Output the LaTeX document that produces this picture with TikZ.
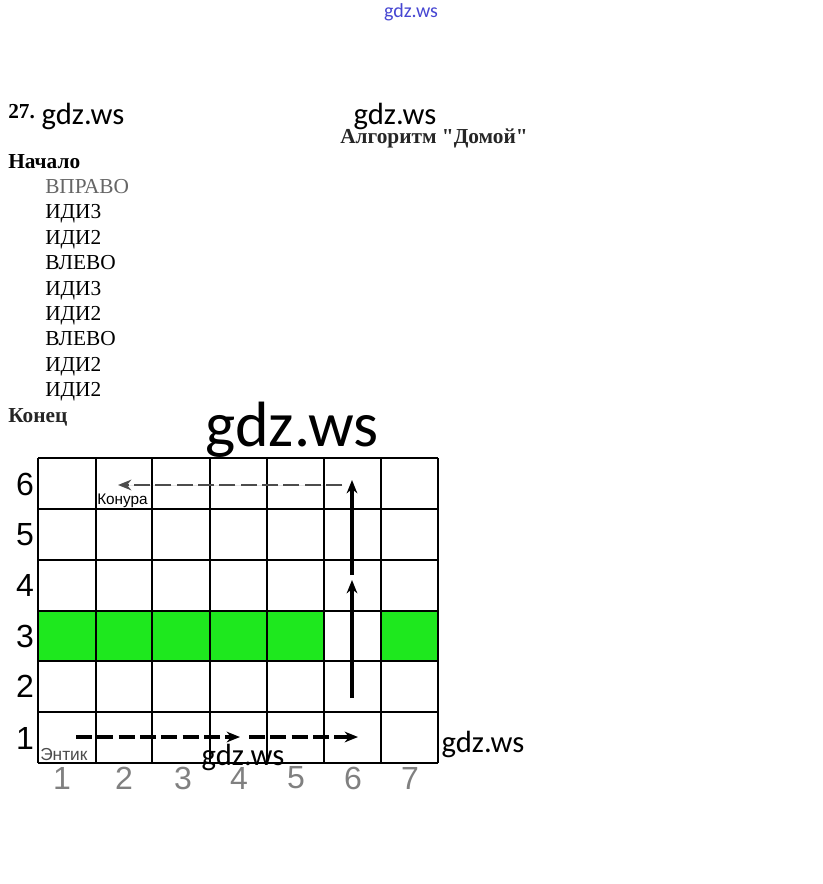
\documentclass[tikz,border=0pt]{standalone}
\usepackage{fontspec}
\setmainfont{Liberation Serif}
\newfontfamily\plainserif[Ligatures=TeXOff]{Liberation Serif}
\newfontfamily\arialf{Liberation Sans}
\newfontfamily\calib{Carlito}
\usetikzlibrary{arrows.meta}
\definecolor{cellgreen}{RGB}{30,232,30}
\definecolor{wmblue}{RGB}{70,70,210}
\begin{document}
\begin{tikzpicture}[x=0.75pt,y=-0.75pt,
  txt/.style={anchor=base west,inner sep=0,font=\fontsize{16}{19}\selectfont},
  btxt/.style={txt,font=\fontsize{16}{19}\selectfont\bfseries},
  wm/.style={inner sep=0,font=\calib\fontsize{23}{28}\selectfont},
  num/.style={inner sep=0,font=\arialf\fontsize{24}{28}\selectfont},
  colnum/.style={num,text=gray},
  small/.style={inner sep=0,font=\arialf\fontsize{11.5}{14}\selectfont},
  gridline/.style={line width=1.1pt,black},
  movearrow/.style={line width=2.4pt,-{Stealth[length=10pt,width=8pt]}},
  dasharrow/.style={movearrow,dash pattern=on 12pt off 4pt}]
\useasboundingbox (0,0) rectangle (823,884);
\fill[white] (0,0) rectangle (823,884);

% watermarks
\node[inner sep=0,font=\calib\fontsize{15}{18}\selectfont,text=wmblue] (wm0) at (411,12) {gdz.ws};
\node[wm] (wm1) at (83,116) {gdz.ws};
\node[wm] (wm2) at (395,116) {gdz.ws};

% header and algorithm
\node[btxt] (no) at (8,119) {27.};
\node[txt,font=\plainserif\fontsize{16}{19}\selectfont\bfseries,text=black!85] (title) at (340,144) {Алгоритм "Домой"};
\node[btxt] (start) at (8,169) {Начало};
\node[txt,text=black!60] (c1) at (45,194) {ВПРАВО};
\node[txt] (c2) at (45,219) {ИДИ3};
\node[txt] (c3) at (45,244.5) {ИДИ2};
\node[txt] (c4) at (45,269.5) {ВЛЕВО};
\node[txt] (c5) at (45,295) {ИДИ3};
\node[txt] (c6) at (45,320) {ИДИ2};
\node[txt] (c7) at (45,345.5) {ВЛЕВО};
\node[txt] (c8) at (45,371) {ИДИ2};
\node[txt] (c9) at (45,396) {ИДИ2};
\node[btxt,text=black!85] (stop) at (8,422) {Конец};

\node[inner sep=0,font=\calib\fontsize{48}{56}\selectfont] (wmbig) at (292,430) {gdz.ws};

% green row 3
\fill[cellgreen] (38,611) rectangle (324,661);
\fill[cellgreen] (381,611) rectangle (438,661);

% grid
\foreach \x in {38,96,152,210,267,324,381,438}
  \draw[gridline] (\x,458) -- (\x,763);
\foreach \y in {458,509,560,611,661,712,763}
  \draw[gridline] (38,\y) -- (438,\y);

% row labels
\foreach \r/\y in {6/484,5/535,4/585,3/636,2/686,1/738}
  \node[num] (row\r) at (25,\y) {\r};
% column labels
\foreach \c/\x in {1/62,2/124,3/183,4/239,5/296,6/353,7/410}
  \node[colnum] (col\c) at (\x,778) {\c};

\node[small,anchor=north west] (dog) at (97,494) {Конура};
\node[small,anchor=south west,text=black!70,font=\arialf\fontsize{13}{15}\selectfont] (ent) at (40,761) {Энтик};

% path coordinates
\coordinate (p0) at (76,737);
\coordinate (p1) at (240,737);
\coordinate (p2) at (249,737);
\coordinate (p3) at (358,737);
\coordinate (p4) at (352,698);
\coordinate (p5) at (352,580);
\coordinate (p6) at (352,575);
\coordinate (p7) at (352,480);
\coordinate (p8) at (342,485);
\coordinate (p9) at (118,485);

\draw[dasharrow] (p0) -- (p1);
\draw[dasharrow] (p2) -- (p3);
\draw[movearrow] (p4) -- (p5);
\draw[movearrow] (p6) -- (p7);
\draw[dasharrow,draw=black!70,fill=black!70,line width=2pt] (p8) -- (p9);

\node[wm] (wm3) at (243,757) {gdz.ws};
\node[wm] (wm4) at (483,744) {gdz.ws};
\end{tikzpicture}
\end{document}
